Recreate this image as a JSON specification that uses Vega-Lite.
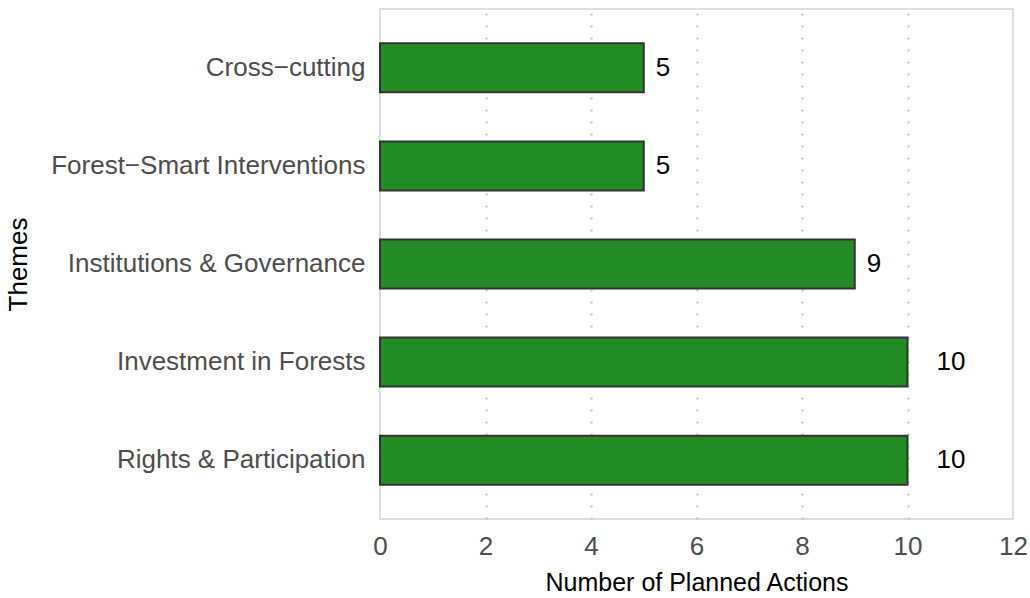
{
  "$schema": "https://vega.github.io/schema/vega-lite/v6.json",
  "width": 633,
  "height": 510,
  "autosize": "none",
  "padding": {"left": 380, "top": 9, "right": 17, "bottom": 79},
  "background": "white",
  "config": {
    "font": "Liberation Sans",
    "view": {"stroke": "#d4d4d4", "strokeWidth": 1.5},
    "axis": {
      "labelFont": "Liberation Sans",
      "titleFont": "Liberation Sans",
      "labelFontSize": 26,
      "titleFontSize": 26,
      "labelColor": "#4d4d4d",
      "titleColor": "#000000",
      "titleFontWeight": "normal",
      "ticks": false,
      "domain": false
    }
  },
  "data": {
    "values": [
      {"theme": "Cross−cutting", "actions": 5},
      {"theme": "Forest−Smart Interventions", "actions": 5},
      {"theme": "Institutions & Governance", "actions": 9},
      {"theme": "Investment in Forests", "actions": 10},
      {"theme": "Rights & Participation", "actions": 10}
    ]
  },
  "encoding": {
    "y": {
      "field": "theme",
      "type": "nominal",
      "sort": ["Cross−cutting", "Forest−Smart Interventions", "Institutions & Governance", "Investment in Forests", "Rights & Participation"],
      "scale": {"paddingInner": 0.5, "paddingOuter": 0.35},
      "axis": {
        "title": "Themes",
        "grid": false,
        "labelPadding": 15,
        "labelLimit": 400,
        "titleX": -362,
        "titleBaseline": "middle",
        "titleAngle": -90
      }
    },
    "x": {
      "field": "actions",
      "type": "quantitative",
      "scale": {"domain": [0, 12], "nice": false, "zero": true},
      "axis": {
        "title": "Number of Planned Actions",
        "titleFontSize": 25,
        "values": [0, 2, 4, 6, 8, 10, 12],
        "labelPadding": 14,
        "labelFlush": false,
        "titlePadding": 11,
        "grid": true,
        "gridColor": {"condition": {"test": "datum.value === 0 || datum.value === 12", "value": "transparent"}, "value": "#c4c4c4"},
        "gridDash": [2, 10],
        "gridWidth": 2
      }
    }
  },
  "layer": [
    {
      "mark": {"type": "bar", "fill": "#228B22", "stroke": "#333333", "strokeWidth": 2}
    },
    {
      "transform": [{"filter": "datum.actions < 10"}],
      "mark": {"type": "text", "align": "left", "baseline": "middle", "dx": 12, "fontSize": 26, "color": "#000000"},
      "encoding": {"text": {"field": "actions", "type": "quantitative"}}
    },
    {
      "transform": [{"filter": "datum.actions >= 10"}],
      "mark": {"type": "text", "align": "left", "baseline": "middle", "dx": 29, "fontSize": 26, "color": "#000000"},
      "encoding": {"text": {"field": "actions", "type": "quantitative"}}
    }
  ]
}
